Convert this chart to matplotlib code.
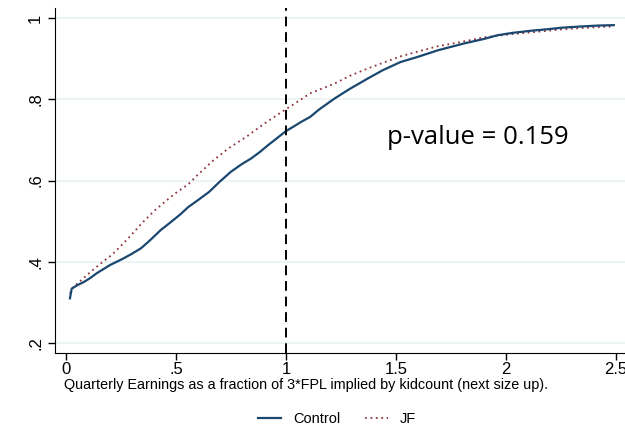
import matplotlib.pyplot as plt

control_x = [0.018, 0.026, 0.05, 0.08, 0.11, 0.14, 0.17, 0.20, 0.23, 0.26, 0.30, 0.34,
             0.38, 0.43, 0.47, 0.52, 0.556, 0.60, 0.65, 0.70, 0.75, 0.80, 0.84, 0.88,
             0.92, 0.96, 1.00, 1.04, 1.07, 1.11, 1.15, 1.22, 1.29, 1.37, 1.44, 1.52,
             1.60, 1.69, 1.81, 1.90, 1.96, 2.03, 2.11, 2.19, 2.26, 2.35, 2.42, 2.49]
control_y = [0.310, 0.334, 0.342, 0.350, 0.360, 0.372, 0.382, 0.392, 0.400, 0.408, 0.420, 0.433,
             0.452, 0.478, 0.495, 0.517, 0.535, 0.552, 0.572, 0.598, 0.622, 0.641, 0.654, 0.670,
             0.688, 0.705, 0.722, 0.735, 0.745, 0.757, 0.775, 0.802, 0.826, 0.851, 0.872, 0.892,
             0.905, 0.921, 0.938, 0.949, 0.958, 0.964, 0.969, 0.973, 0.977, 0.980, 0.982, 0.983]

jf_x = [0.018, 0.033, 0.07, 0.12, 0.17, 0.21, 0.24, 0.29, 0.35, 0.40, 0.45, 0.50, 0.556,
        0.60, 0.67, 0.74, 0.82, 0.90, 0.95, 1.00, 1.06, 1.11, 1.22, 1.29, 1.37, 1.44,
        1.52, 1.60, 1.69, 1.80, 1.90, 2.03, 2.15, 2.26, 2.38, 2.49]
jf_y = [0.322, 0.338, 0.355, 0.379, 0.401, 0.418, 0.434, 0.462, 0.498, 0.525, 0.548, 0.570, 0.591,
        0.615, 0.650, 0.680, 0.708, 0.740, 0.758, 0.776, 0.797, 0.815, 0.839, 0.858, 0.876, 0.890,
        0.906, 0.918, 0.931, 0.942, 0.953, 0.961, 0.967, 0.973, 0.977, 0.980]

x_ticks = [0, 0.5, 1, 1.5, 2, 2.5]
x_ticklabels = ["0", ".5", "1", "1.5", "2", "2.5"]
y_ticks = [0.2, 0.4, 0.6, 0.8, 1.0]
y_ticklabels = [".2", ".4", ".6", ".8", "1"]
cutoff = 1.0
pvalue_text = "p-value = 0.159"

plt.rcParams['font.family'] = ['Liberation Sans', 'DejaVu Sans']

fig = plt.figure(figsize=(6.25, 4.26), dpi=100)
ax = fig.add_axes([0.088, 0.171, 0.912, 0.81])

for y in y_ticks:
    ax.axhline(y, color='#eaf2f3', linewidth=1.2, zorder=0)

ax.plot(jf_x, jf_y, color='#90353b', linestyle=(0, (1, 2)), linewidth=1.3, label='JF')
ax.plot(control_x, control_y, color='#1a476f', linewidth=1.6, label='Control')
ax.axvline(cutoff, color='black', linestyle=(0, (5, 3)), linewidth=1.4)

ax.text(1.873, 0.707, pvalue_text, fontsize=18.5, family=['Open Sans', 'DejaVu Sans'],
        ha='center', va='center')

ax.set_xlim(-0.05, 2.541)
ax.set_ylim(0.175, 1.025)
ax.set_xticks(x_ticks)
ax.set_xticklabels(x_ticklabels, fontsize=12)
ax.set_yticks(y_ticks)
ax.set_yticklabels(y_ticklabels, fontsize=12, rotation=90, va='center')
ax.tick_params(direction='out', length=5, width=1, color='black')
ax.tick_params(axis='x', pad=1.5)
for side in ['top', 'right']:
    ax.spines[side].set_visible(False)

fig.text(306 / 625, 1 - 385 / 426,
         "Quarterly Earnings as a fraction of 3*FPL implied by kidcount (next size up).",
         fontsize=10.4, ha='center', va='center')

handles, labels = ax.get_legend_handles_labels()
fig.legend(handles[::-1], labels[::-1], loc='center', ncol=2,
           bbox_to_anchor=(337 / 625, 1 - 419 / 426), frameon=False, fontsize=10.5,
           handlelength=1.6, columnspacing=1.7)

fig.savefig("out.png", dpi=100)
